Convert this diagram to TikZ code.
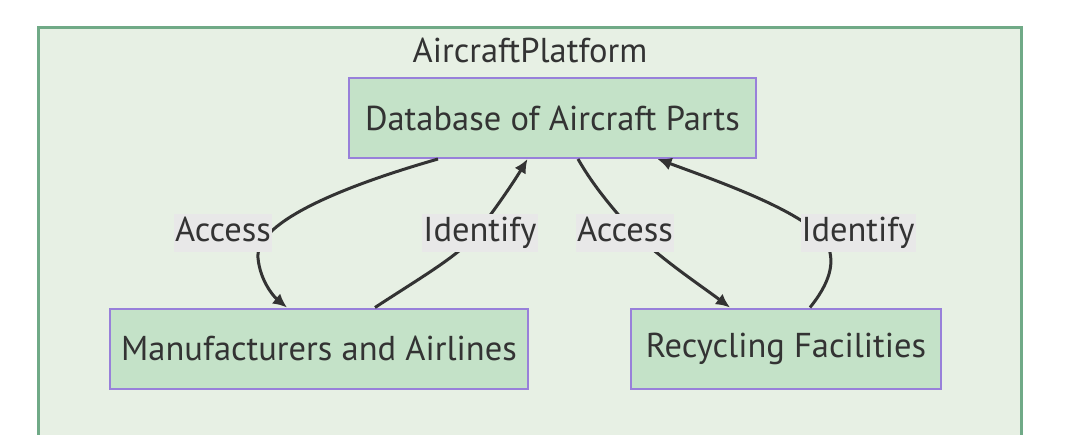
\documentclass[tikz,border=0pt]{standalone}
\usepackage{fontspec}
\setmainfont{PT Sans}
\usetikzlibrary{arrows.meta,positioning}
\definecolor{clusterfill}{RGB}{231,240,228}
\definecolor{clusterline}{RGB}{112,170,135}
\definecolor{boxfill}{RGB}{196,226,200}
\definecolor{boxline}{RGB}{152,128,218}
\definecolor{ink}{RGB}{51,51,51}
\definecolor{tagfill}{RGB}{232,232,232}
\tikzset{>={Latex[length=14pt,width=13pt]},
    cluster/.style={draw=clusterline, fill=clusterfill, line width=3pt},
    partbox/.style={rectangle, draw=boxline, fill=boxfill, line width=2pt,
                    text=ink, minimum height=80pt, inner xsep=8pt,
                    font=\fontsize{34.5}{40}\selectfont},
    tag/.style={fill=tagfill, text=ink, inner xsep=1pt, inner ysep=2.5pt,
                text height=25pt, text depth=8pt,
                font=\fontsize{34.5}{40}\selectfont},
    pil/.style={->, draw=ink, line width=3pt}}

\begin{document}
\begin{tikzpicture}[x=1pt, y=-1pt]
    \useasboundingbox (0,0) rectangle (1078,434);
    \clip (0,0) rectangle (1078,434);
    \draw[cluster] (38,27) rectangle (1021,460);
    \node[text=ink, font=\fontsize{34.5}{40}\selectfont] (title) at (530,50) {AircraftPlatform};

    \node[partbox, minimum width=407pt] (db) at (552.5,118) {Database of Aircraft Parts};
    \node[partbox, minimum width=418pt] (makers) at (319,348.5) {Manufacturers and Airlines};
    \node[partbox, minimum width=310pt] (recycle) at (786,348.5) {Recycling Facilities};

    % database to users and back
    \draw[pil] ([xshift=-114.5pt]db.south) .. controls (330,190) and (255,225) .. (258,258)
        .. controls (260,280) and (273,296) .. ([xshift=-32pt]makers.north);
    \draw[pil] ([xshift=56pt]makers.north) .. controls (420,278) and (460,255) .. (475,235)
        .. controls (495,210) and (515,180) .. ([xshift=-25pt]db.south);
    \draw[pil] ([xshift=25.5pt]db.south) .. controls (590,180) and (605,200) .. (630,228)
        .. controls (655,255) and (700,285) .. ([xshift=-56pt]recycle.north);
    \draw[pil] ([xshift=24pt]recycle.north) .. controls (828,285) and (838,262) .. (825,240)
        .. controls (800,210) and (720,182) .. ([xshift=105pt]db.south);

    \node[tag] (acc1) at (223,233) {Access};
    \node[tag] (idf1) at (480,233) {Identify};
    \node[tag] (acc2) at (625,233) {Access};
    \node[tag] (idf2) at (858,233) {Identify};
\end{tikzpicture}
\end{document}
